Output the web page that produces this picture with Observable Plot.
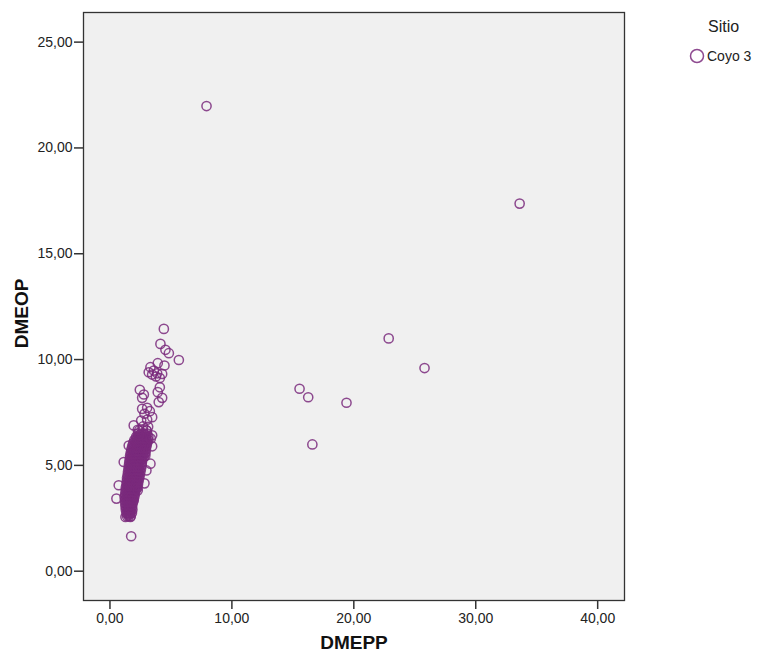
<!DOCTYPE html>
<html>
<head>
<meta charset="utf-8">
<script src="https://cdn.jsdelivr.net/npm/d3@7"></script>
<script src="https://cdn.jsdelivr.net/npm/@observablehq/plot@0.6"></script>
<style>
  body { margin: 0; background: #fff; }
  #wrap { position: relative; width: 758px; height: 653px; font-family: "Liberation Sans", Arial, sans-serif; }
  #legend { position: absolute; left: 676px; top: 18px; color: #222; }
  #legend .title { position: absolute; left: 32px; top: 0; font-size: 16px; width: 40px; }
  #legend .item { position: absolute; left: 13px; top: 30px; font-size: 14px; white-space: nowrap; display: flex; align-items: center; }
</style>
</head>
<body>
<div id="wrap"></div>
<script>
// Series: Sitio = "Coyo 3", points [DMEPP, DMEOP]
const seriesName = "Coyo 3";
const xTicks = [0, 10, 20, 30, 40];
const yTicks = [0, 5, 10, 15, 20, 25];

// isolated outliers
const outliers = [
  [7.92, 21.98], [33.6, 17.37], [22.86, 11.0], [25.8, 9.6], [15.55, 8.62],
  [16.26, 8.22], [19.4, 7.96], [16.6, 5.99], [5.65, 9.98]
];

// upper part of the main cluster
const clusterUpper = [
  [4.42, 11.45], [4.14, 10.74], [4.55, 10.46], [4.83, 10.3], [3.92, 9.83],
  [4.47, 9.72], [3.32, 9.64], [3.18, 9.40], [3.6, 9.48], [3.87, 9.35],
  [3.46, 9.29], [4.28, 9.32], [4.09, 9.13], [3.77, 9.2], [2.45, 8.57],
  [4.09, 8.69], [2.78, 8.35], [2.64, 8.19], [3.92, 8.46], [4.28, 8.19],
  [4.0, 7.99], [3.05, 7.72], [2.64, 7.67], [3.27, 7.56], [2.83, 7.44],
  [3.46, 7.28], [3.05, 7.16], [2.56, 7.12], [1.95, 6.89], [2.72, 6.84],
  [3.13, 6.82], [2.28, 6.68], [3.0, 6.65], [3.46, 6.42], [2.37, 6.42],
  [3.35, 6.27], [3.46, 5.9], [1.54, 5.94], [1.13, 5.16], [3.32, 5.08],
  [2.99, 4.76], [0.72, 4.06], [0.53, 3.43], [2.83, 4.15], [2.28, 3.82],
  [1.68, 2.56], [1.27, 2.56], [1.74, 1.65]
];

// dense body of the cluster
const clusterBody = [
  [1.40, 2.60], [1.55, 2.60], [1.70, 2.60],
  [1.35, 2.75], [1.50, 2.75], [1.65, 2.75], [1.80, 2.75],
  [1.30, 2.90], [1.48, 2.90], [1.66, 2.90], [1.84, 2.90],
  [1.28, 3.05], [1.46, 3.05], [1.64, 3.05], [1.82, 3.05],
  [1.25, 3.20], [1.45, 3.20], [1.65, 3.20], [1.85, 3.20],
  [1.22, 3.35], [1.42, 3.35], [1.62, 3.35], [1.82, 3.35], [1.95, 3.35],
  [1.20, 3.50], [1.40, 3.50], [1.60, 3.50], [1.80, 3.50], [2.00, 3.50],
  [1.25, 3.65], [1.45, 3.65], [1.65, 3.65], [1.85, 3.65], [2.05, 3.65],
  [1.28, 3.80], [1.48, 3.80], [1.68, 3.80], [1.88, 3.80], [2.08, 3.80],
  [1.30, 3.95], [1.50, 3.95], [1.70, 3.95], [1.90, 3.95], [2.10, 3.95], [2.25, 3.95],
  [1.35, 4.10], [1.55, 4.10], [1.75, 4.10], [1.95, 4.10], [2.15, 4.10], [2.30, 4.10],
  [1.38, 4.25], [1.58, 4.25], [1.78, 4.25], [1.98, 4.25], [2.18, 4.25], [2.35, 4.25],
  [1.40, 4.40], [1.60, 4.40], [1.80, 4.40], [2.00, 4.40], [2.20, 4.40], [2.40, 4.40],
  [1.45, 4.55], [1.65, 4.55], [1.85, 4.55], [2.05, 4.55], [2.25, 4.55], [2.45, 4.55],
  [1.48, 4.70], [1.68, 4.70], [1.88, 4.70], [2.08, 4.70], [2.28, 4.70], [2.50, 4.70],
  [1.52, 4.85], [1.72, 4.85], [1.92, 4.85], [2.12, 4.85], [2.32, 4.85], [2.55, 4.85],
  [1.55, 5.00], [1.75, 5.00], [1.95, 5.00], [2.15, 5.00], [2.35, 5.00], [2.60, 5.00],
  [1.58, 5.15], [1.78, 5.15], [1.98, 5.15], [2.18, 5.15], [2.38, 5.15], [2.62, 5.15],
  [1.62, 5.30], [1.82, 5.30], [2.02, 5.30], [2.22, 5.30], [2.42, 5.30], [2.66, 5.30],
  [1.65, 5.45], [1.85, 5.45], [2.05, 5.45], [2.25, 5.45], [2.45, 5.45], [2.70, 5.45], [2.90, 5.45],
  [1.70, 5.60], [1.90, 5.60], [2.10, 5.60], [2.30, 5.60], [2.50, 5.60], [2.72, 5.60], [2.92, 5.60],
  [1.75, 5.75], [1.95, 5.75], [2.15, 5.75], [2.35, 5.75], [2.55, 5.75], [2.75, 5.75], [2.95, 5.75],
  [1.82, 5.90], [2.02, 5.90], [2.22, 5.90], [2.42, 5.90], [2.62, 5.90], [2.82, 5.90], [3.00, 5.90],
  [1.90, 6.05], [2.10, 6.05], [2.30, 6.05], [2.50, 6.05], [2.70, 6.05], [2.90, 6.05], [3.05, 6.05],
  [2.00, 6.20], [2.20, 6.20], [2.40, 6.20], [2.60, 6.20], [2.80, 6.20], [3.00, 6.20], [3.15, 6.20],
  [2.15, 6.35], [2.35, 6.35], [2.55, 6.35], [2.75, 6.35], [2.95, 6.35], [3.15, 6.35],
  [2.30, 6.50], [2.55, 6.50], [2.80, 6.50], [3.05, 6.50],
  [2.40, 6.65], [2.70, 6.65], [3.00, 6.65]
];

// further points lying between the rows of the dense body
const clusterBodyFill = [
  [1.47, 2.68], [1.62, 2.68],
  [1.42, 2.83], [1.58, 2.83], [1.74, 2.83],
  [1.39, 2.98], [1.57, 2.98], [1.75, 2.98],
  [1.36, 3.13], [1.55, 3.13], [1.74, 3.13],
  [1.33, 3.28], [1.53, 3.28], [1.73, 3.28], [1.90, 3.28],
  [1.31, 3.43], [1.51, 3.43], [1.71, 3.43], [1.90, 3.43],
  [1.32, 3.58], [1.52, 3.58], [1.72, 3.58], [1.92, 3.58],
  [1.36, 3.73], [1.56, 3.73], [1.76, 3.73], [1.96, 3.73],
  [1.39, 3.88], [1.59, 3.88], [1.79, 3.88], [1.99, 3.88], [2.17, 3.88],
  [1.42, 4.03], [1.62, 4.03], [1.82, 4.03], [2.02, 4.03], [2.22, 4.03],
  [1.46, 4.18], [1.66, 4.18], [1.86, 4.18], [2.06, 4.18], [2.24, 4.18],
  [1.49, 4.33], [1.69, 4.33], [1.89, 4.33], [2.09, 4.33], [2.29, 4.33],
  [1.52, 4.48], [1.72, 4.48], [1.92, 4.48], [2.12, 4.48], [2.32, 4.48],
  [1.56, 4.63], [1.76, 4.63], [1.96, 4.63], [2.16, 4.63], [2.37, 4.63],
  [1.60, 4.78], [1.80, 4.78], [2.00, 4.78], [2.20, 4.78], [2.42, 4.78],
  [1.63, 4.93], [1.83, 4.93], [2.03, 4.93], [2.23, 4.93], [2.45, 4.93],
  [1.66, 5.08], [1.86, 5.08], [2.06, 5.08], [2.26, 5.08], [2.50, 5.08],
  [1.70, 5.23], [1.90, 5.23], [2.10, 5.23], [2.30, 5.23], [2.54, 5.23],
  [1.73, 5.38], [1.93, 5.38], [2.13, 5.38], [2.33, 5.38], [2.56, 5.38], [2.78, 5.38],
  [1.78, 5.53], [1.98, 5.53], [2.18, 5.53], [2.38, 5.53], [2.60, 5.53], [2.82, 5.53],
  [1.82, 5.68], [2.02, 5.68], [2.22, 5.68], [2.42, 5.68], [2.64, 5.68], [2.85, 5.68],
  [1.88, 5.83], [2.08, 5.83], [2.28, 5.83], [2.48, 5.83], [2.68, 5.83], [2.88, 5.83],
  [1.96, 5.98], [2.16, 5.98], [2.36, 5.98], [2.56, 5.98], [2.76, 5.98], [2.96, 5.98],
  [2.05, 6.13], [2.25, 6.13], [2.45, 6.13], [2.65, 6.13], [2.85, 6.13], [3.05, 6.13],
  [2.18, 6.28], [2.38, 6.28], [2.58, 6.28], [2.78, 6.28], [2.98, 6.28],
  [2.42, 6.43], [2.68, 6.43], [2.92, 6.43]
];

const points = [...clusterBody, ...clusterBodyFill, ...clusterUpper, ...outliers]
  .map(([x, y]) => ({x, y, sitio: seriesName}));

const fmt = d => d.toFixed(2).replace(".", ",");
const purple = "#7a2a7c";

const chart = Plot.plot({
  width: 758,
  height: 653,
  marginLeft: 83,
  marginRight: 134,
  marginTop: 12,
  marginBottom: 53,
  style: {fontFamily: "'Liberation Sans', Arial, sans-serif", fontSize: "14px", color: "#222", background: "#fff"},
  x: {domain: [-2.17, 42.2], ticks: xTicks, tickFormat: fmt},
  y: {domain: [-1.385, 26.4], ticks: yTicks, tickFormat: fmt},
  marks: [
    Plot.frame({fill: "#f0f0f0", stroke: "none"}),
    Plot.dot(points, {x: "x", y: "y", r: 4.6, stroke: purple, strokeWidth: 1.5, strokeOpacity: 0.85, fill: "none"}),
    Plot.frame({stroke: "#333", strokeWidth: 1.3}),
    Plot.axisX({ticks: xTicks, tickFormat: fmt, tickSize: 9, tickPadding: 4, stroke: "#333", strokeWidth: 1.5, fontSize: 14, label: null}),
    Plot.axisY({ticks: yTicks, tickFormat: fmt, tickSize: 9, tickPadding: 2, stroke: "#333", strokeWidth: 1.5, fontSize: 14, label: null}),
    Plot.text(["DMEPP"], {frameAnchor: "bottom", dy: 48, fontSize: 19, fontWeight: "bold", fill: "#111"}),
    Plot.text(["DMEOP"], {frameAnchor: "left", textAnchor: "middle", dx: -62, dy: 7, rotate: -90, fontSize: 19, fontWeight: "bold", fill: "#111"})
  ]
});

const wrap = document.getElementById("wrap");
wrap.appendChild(chart);

const legend = document.createElement("div");
legend.id = "legend";
legend.innerHTML = `<div class="title">Sitio</div>
<div class="item"><svg width="16" height="16" style="margin-right:2px"><circle cx="8" cy="8" r="6.5" fill="none" stroke="${purple}" stroke-width="1.5" stroke-opacity="0.85"/></svg>${seriesName}</div>`;
wrap.appendChild(legend);
</script>
</body>
</html>
